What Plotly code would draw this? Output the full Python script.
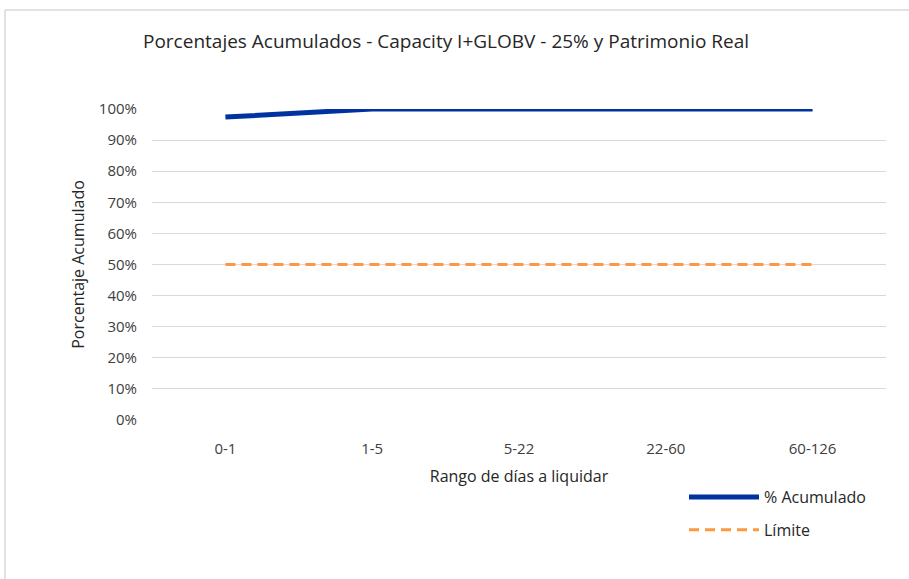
import plotly.graph_objects as go

categories = ["0-1", "1-5", "5-22", "22-60", "60-126"]
acumulado = [0.974, 1.0, 1.0, 1.0, 1.0]
limite = [0.5, 0.5, 0.5, 0.5, 0.5]
y_ticks = [i / 10 for i in range(11)]
y_tick_labels = [f"{i*10}%" for i in range(11)]

FONT = "Open Sans"
L, R, T, B = 152, 23, 109, 159
W, H = 909, 579
pw, ph = W - L - R, H - T - B

fig = go.Figure()
fig.add_trace(go.Scatter(x=categories, y=acumulado, mode="lines", name="% Acumulado",
                         legendgroup="a",
                         line=dict(color="#0033A0", width=5)))
fig.add_trace(go.Scatter(x=categories, y=limite, mode="lines", name="Límite",
                         legendgroup="b",
                         line=dict(color="#FA9A3C", width=3, dash="10px,6px")))

def px2x(p):
    return (p - L) / pw

def py2y(p):
    return (H - B - p) / ph

# outer chart border (top and left visible)
fig.add_shape(type="line", xref="paper", yref="paper", x0=px2x(5), x1=px2x(W + 5),
              y0=py2y(10), y1=py2y(10), line=dict(color="#D9D9D9", width=1.5))
fig.add_shape(type="line", xref="paper", yref="paper", x0=px2x(5), x1=px2x(5),
              y0=py2y(10), y1=py2y(H + 5), line=dict(color="#D9D9D9", width=1.5))

fig.update_layout(
    width=W, height=H,
    margin=dict(l=L, r=R, t=T, b=B),
    paper_bgcolor="white", plot_bgcolor="white",
    font=dict(family=FONT, size=15, color="#404040"),
    title=dict(text="Porcentajes Acumulados - Capacity I+GLOBV - 25% y Patrimonio Real",
               x=143 / W, xanchor="left", y=1 - 41 / H, yanchor="middle",
               font=dict(family=FONT, size=19, color="#262626")),
    showlegend=True,
    legend=dict(x=px2x(684), y=py2y(480), xanchor="left", yanchor="top",
                font=dict(family=FONT, size=16, color="#262626"),
                traceorder="grouped", itemwidth=70, tracegroupgap=9,
                bgcolor="rgba(0,0,0,0)"),
    xaxis=dict(type="category", range=[-0.5, 4.5], showgrid=False, showline=False,
               ticks="", zeroline=False, ticklabelstandoff=18,
               tickfont=dict(family=FONT, size=15, color="#404040"),
               title=dict(text="Rango de días a liquidar", standoff=13,
                          font=dict(family=FONT, size=16, color="#262626"))),
    yaxis=dict(range=[0, 1.0], tickvals=y_ticks, ticktext=y_tick_labels,
               showgrid=True, gridcolor="#D9D9D9", gridwidth=1, zeroline=False,
               showline=False, ticks="", ticklabelstandoff=14,
               tickfont=dict(family=FONT, size=15, color="#404040"),
               title=dict(text="Porcentaje Acumulado", standoff=10,
                          font=dict(family=FONT, size=16, color="#262626"))),
)
fig.update_yaxes(automargin=False)
fig.update_xaxes(automargin=False)

fig.write_html("out.html", config={"displayModeBar": False},
               post_script="document.body.style.margin='0';")
